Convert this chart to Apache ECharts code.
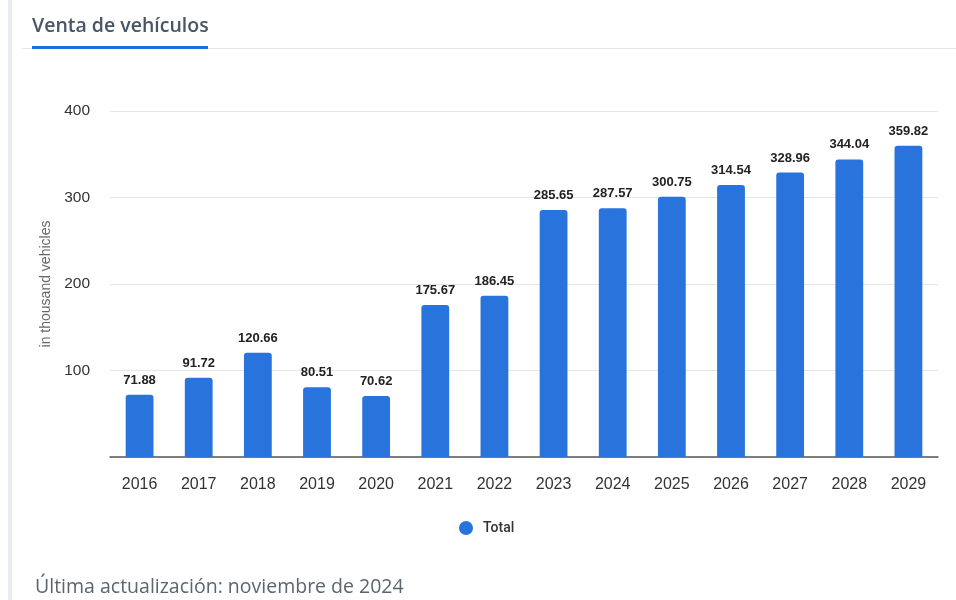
<!DOCTYPE html>
<html>
<head>
<meta charset="utf-8">
<script src="https://cdn.jsdelivr.net/npm/echarts@6/dist/echarts.min.js"></script>
<style>
  html, body { margin: 0; padding: 0; background: #fff; }
  #chart { width: 956px; height: 600px; }
</style>
</head>
<body>
<div id="chart"></div>
<script>
// Vehicle sales per year, in thousand vehicles
const years = ['2016', '2017', '2018', '2019', '2020', '2021', '2022', '2023', '2024', '2025', '2026', '2027', '2028', '2029'];
const totals = [71.88, 91.72, 120.66, 80.51, 70.62, 175.67, 186.45, 285.65, 287.57, 300.75, 314.54, 328.96, 344.04, 359.82];
const yTicks = [0, 100, 200, 300, 400];

const chart = echarts.init(document.getElementById('chart'), null, { renderer: 'canvas' });

chart.setOption({
  animation: false,
  backgroundColor: '#fff',
  title: {
    text: 'Venta de vehículos',
    left: 27,
    top: 11,
    textStyle: {
      fontFamily: 'Open Sans',
      fontSize: 19.5,
      fontWeight: 600,
      color: '#465667'
    }
  },
  graphic: [
    // left panel border
    { type: 'rect', shape: { x: 8, y: 0, width: 4, height: 600 }, style: { fill: '#e9edf1' }, silent: true },
    // tab separator
    { type: 'rect', shape: { x: 22, y: 48, width: 934, height: 1 }, style: { fill: '#e3e6ea' }, silent: true },
    // active tab underline
    { type: 'rect', shape: { x: 32, y: 46, width: 176, height: 3 }, style: { fill: '#1a6fe0' }, silent: true },
    // footer
    {
      type: 'text', left: 35, top: 577,
      style: {
        text: 'Última actualización: noviembre de 2024',
        font: '19.5px "Open Sans"',
        fill: '#5b6570'
      },
      silent: true
    }
  ],
  legend: {
    data: ['Total'],
    bottom: 60,
    left: 454,
    icon: 'circle',
    itemWidth: 14,
    itemHeight: 14,
    itemGap: 10,
    textStyle: { fontFamily: 'Roboto', fontSize: 14, fontWeight: 500, color: '#333', padding: [0, 0, 0, 5] }
  },
  grid: {
    left: 110,
    right: 18,
    top: 111,
    bottom: 143
  },
  xAxis: {
    type: 'category',
    data: years,
    axisTick: { show: false },
    axisLine: { lineStyle: { color: '#555', width: 1.5 } },
    axisLabel: {
      margin: 20,
      fontFamily: 'Liberation Sans',
      fontSize: 16,
      color: '#333'
    }
  },
  yAxis: {
    type: 'value',
    min: yTicks[0],
    max: yTicks[yTicks.length - 1],
    interval: yTicks[1] - yTicks[0],
    name: 'in thousand vehicles',
    nameLocation: 'middle',
    nameGap: 55,
    nameRotate: 90,
    nameTextStyle: { fontFamily: 'Liberation Sans', fontSize: 14, color: '#666' },
    axisLine: { show: false },
    axisTick: { show: false },
    axisLabel: {
      margin: 20,
      fontFamily: 'Liberation Sans',
      fontSize: 15.5,
      color: '#333',
      formatter: v => (v === 0 ? '' : String(v))
    },
    splitLine: { lineStyle: { color: '#e6e6e6', width: 1 } }
  },
  series: [{
    name: 'Total',
    type: 'bar',
    data: totals,
    barWidth: '47%',
    itemStyle: { color: '#2874dc', borderRadius: [3, 3, 0, 0] },
    label: {
      show: true,
      position: 'top',
      distance: 8,
      fontFamily: 'Liberation Sans',
      fontSize: 13,
      fontWeight: 'bold',
      color: '#222',
      formatter: p => p.value.toFixed(2)
    }
  }]
});
</script>
</body>
</html>
